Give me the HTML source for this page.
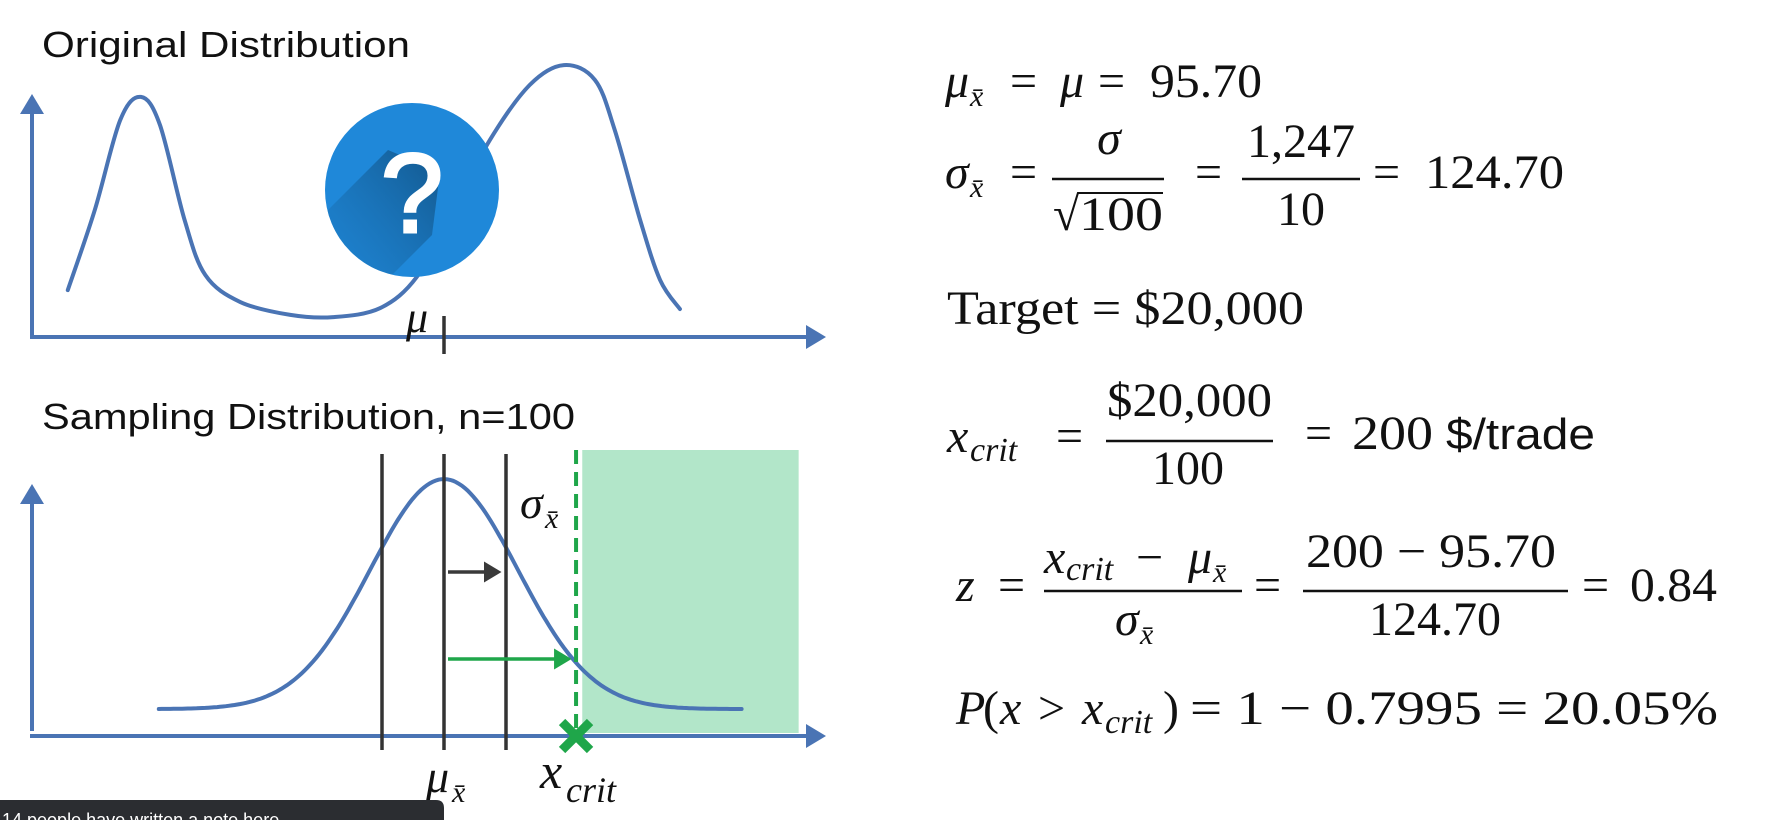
<!DOCTYPE html>
<html><head><meta charset="utf-8"><style>
html,body{margin:0;padding:0;background:#fff;}
svg{display:block;}
.serif{font-family:"Liberation Serif",serif;}
.it{font-style:italic;}
</style></head><body>
<svg id="chart" width="1765" height="820" viewBox="0 0 1765 820" xmlns="http://www.w3.org/2000/svg">
<defs>
<marker id="arr" markerWidth="6" markerHeight="6" refX="4" refY="3" orient="auto" markerUnits="strokeWidth"><path d="M0,0 L5,3 L0,6 z" fill="#4a74b4"/></marker>
<marker id="arrK" markerWidth="6" markerHeight="6" refX="4" refY="3" orient="auto" markerUnits="strokeWidth"><path d="M0,0 L5,3 L0,6 z" fill="#3a3a3a"/></marker>
<marker id="arrG" markerWidth="6" markerHeight="6" refX="4" refY="3" orient="auto" markerUnits="strokeWidth"><path d="M0,0 L5,3 L0,6 z" fill="#1fa64a"/></marker>
<clipPath id="circ"><circle cx="412" cy="190" r="87"/></clipPath>
<linearGradient id="shad" x1="1" y1="0" x2="0" y2="1"><stop offset="0" stop-color="#0f4a78"/><stop offset="1" stop-color="#1f88d9" stop-opacity="0.1"/></linearGradient>
</defs>

<text x="42" y="57" font-family="Liberation Sans, sans-serif" font-size="36" fill="#111" textLength="368" lengthAdjust="spacingAndGlyphs">Original Distribution</text>
<text x="42" y="429" font-family="Liberation Sans, sans-serif" font-size="36" fill="#111" textLength="533" lengthAdjust="spacingAndGlyphs">Sampling Distribution, n=100</text>

<line x1="32" y1="337" x2="32" y2="98" stroke="#4a74b4" stroke-width="4" marker-end="url(#arr)"/>
<line x1="30" y1="337" x2="822" y2="337" stroke="#4a74b4" stroke-width="4" marker-end="url(#arr)"/>
<g id="topCurve"></g>
<line x1="444" y1="316" x2="444" y2="354" stroke="#333" stroke-width="3.5"/>
<text x="406" y="332" class="serif it" font-size="44" fill="#111">μ</text>

<g>
<circle cx="412" cy="190" r="87" fill="#1f88d9"/>
<polygon points="388,150 440,172 432,235 332,335 290,292 290,248" fill="url(#shad)" clip-path="url(#circ)" opacity="0.8"/>
<text x="412" y="232" text-anchor="middle" font-family="Liberation Sans, sans-serif" font-size="112" fill="#fff" stroke="#fff" stroke-width="3">?</text>
</g>

<g id="bottom"></g>

<g class="serif" font-size="48" fill="#111">
<g>
<text x="945" y="97" class="it">μ</text><text x="970" y="106" class="it" font-size="30">x̄</text>
<text x="1010" y="97">=</text><text x="1060" y="97" class="it">μ</text><text x="1098" y="97">=</text>
<text x="1150" y="97" textLength="112" lengthAdjust="spacingAndGlyphs">95.70</text>
</g>
<g>
<text x="945" y="188" class="it">σ</text><text x="970" y="197" class="it" font-size="30">x̄</text>
<text x="1010" y="188">=</text>
<text x="1109" y="154" class="it" text-anchor="middle">σ</text>
<line x1="1052" y1="179" x2="1164" y2="179" stroke="#111" stroke-width="2.5"/>
<text x="1053" y="230">√</text><line x1="1078" y1="193" x2="1163" y2="193" stroke="#111" stroke-width="2"/>
<text x="1079" y="230" textLength="84" lengthAdjust="spacingAndGlyphs">100</text>
<text x="1195" y="188">=</text>
<text x="1301" y="157" text-anchor="middle">1,247</text>
<line x1="1242" y1="179" x2="1360" y2="179" stroke="#111" stroke-width="2.5"/>
<text x="1301" y="225" text-anchor="middle">10</text>
<text x="1373" y="188">=</text><text x="1425" y="188" textLength="139" lengthAdjust="spacingAndGlyphs">124.70</text>
</g>
<text x="947" y="324" textLength="357" lengthAdjust="spacingAndGlyphs">Target = $20,000</text>
<g>
<text x="947" y="452" class="it">x</text><text x="970" y="461" class="it" font-size="34">crit</text>
<text x="1056" y="452">=</text>
<text x="1107" y="416" textLength="165" lengthAdjust="spacingAndGlyphs">$20,000</text>
<line x1="1106" y1="441" x2="1273" y2="441" stroke="#111" stroke-width="2.5"/>
<text x="1188" y="484" text-anchor="middle">100</text>
<text x="1305" y="449">=</text><text x="1352" y="449" textLength="81" lengthAdjust="spacingAndGlyphs">200</text>
<text x="1446" y="449" font-family="Liberation Sans, sans-serif" font-size="44" textLength="149" lengthAdjust="spacingAndGlyphs">$/trade</text>
</g>
<g>
<text x="956" y="601" class="it">z</text><text x="998" y="601">=</text>
<text x="1044" y="573" class="it">x</text><text x="1066" y="580" class="it" font-size="34">crit</text>
<text x="1136" y="573">−</text><text x="1188" y="573" class="it">μ</text><text x="1213" y="582" class="it" font-size="30">x̄</text>
<line x1="1044" y1="591" x2="1242" y2="591" stroke="#111" stroke-width="2.5"/>
<text x="1115" y="635" class="it">σ</text><text x="1140" y="644" class="it" font-size="30">x̄</text>
<text x="1254" y="601">=</text>
<text x="1306" y="567" textLength="250" lengthAdjust="spacingAndGlyphs">200 − 95.70</text>
<line x1="1303" y1="591" x2="1568" y2="591" stroke="#111" stroke-width="2.5"/>
<text x="1435" y="635" text-anchor="middle">124.70</text>
<text x="1582" y="601">=</text><text x="1630" y="601" textLength="87" lengthAdjust="spacingAndGlyphs">0.84</text>
</g>
<g>
<text x="956" y="724" class="it">P</text><text x="983" y="724">(</text><text x="1000" y="724" class="it">x</text>
<text x="1038" y="724">&gt;</text><text x="1082" y="724" class="it">x</text><text x="1105" y="733" class="it" font-size="34">crit</text>
<text x="1163" y="724">)</text>
<text x="1190" y="724" textLength="528" lengthAdjust="spacingAndGlyphs">= 1 − 0.7995 = 20.05%</text>
</g>
</g>

<g>
<path d="M0,800 L436,800 Q444,800 444,808 L444,820 L0,820 z" fill="#2b2d31"/>
<text x="2" y="826" font-family="Liberation Sans, sans-serif" font-size="18" fill="#fff">14 people have written a note here</text>
</g>
</svg>
<script>
var origX = [4.5,7.9,11.1,13.7,16.1,19.2,21.8,26.2,32.5,37.9,43.8,48.4,52.6,57.6,62.6,66.9,70.8,73.3,76.5,79.0,81.5];
var origY = [19.3,52.3,89.3,98.8,87.2,48.1,25.5,14.4,9.1,8.2,11.9,24.7,50.2,81.1,103.7,111.9,105.8,85.2,48.1,23.5,11.5];
var sampMean = [0];
var sampSd = [1.19];
var sdLines = [-1, 0, 1];
var critValue = [2.13];
var tailOffset = [0.117];
var curveRange = [-4.6, 4.8];
var shadeRange = [2.23, 5.72];

var NS = "http://www.w3.org/2000/svg";
function mk(tag, attrs, parent){var e=document.createElementNS(NS,tag);for(var k in attrs)e.setAttribute(k,attrs[k]);parent.appendChild(e);return e;}
function xTop(v){return 32 + v*7.95;}
function yTop(v){return 337 - v*2.43;}
function xBot(v){return 444 + v*62;}
function yBot(v){return 736 - v*230;}

var pts = origX.map(function(x,i){return [xTop(x), yTop(origY[i])];});
var d = "M"+pts[0][0]+","+pts[0][1];
for (var i=0;i<pts.length-1;i++){
  var p0=pts[Math.max(0,i-1)],p1=pts[i],p2=pts[i+1],p3=pts[Math.min(pts.length-1,i+2)];
  d += " C"+(p1[0]+(p2[0]-p0[0])/6)+","+(p1[1]+(p2[1]-p0[1])/6)+" "+(p2[0]-(p3[0]-p1[0])/6)+","+(p2[1]-(p3[1]-p1[1])/6)+" "+p2[0]+","+p2[1];
}
var tc = mk("path",{d:d,fill:"none",stroke:"#4a74b4","stroke-width":4,"stroke-linecap":"round"},document.getElementById("topCurve"));



var g = document.getElementById("bottom");
var shade = mk("rect",{x:xBot(shadeRange[0]),y:450,width:xBot(shadeRange[1])-xBot(shadeRange[0]),height:283,fill:"#b2e6c9"},g);


var ya = mk("line",{x1:32,y1:731,x2:32,y2:488,stroke:"#4a74b4","stroke-width":4,"marker-end":"url(#arr)"},g);


var xa = mk("line",{x1:30,y1:736,x2:822,y2:736,stroke:"#4a74b4","stroke-width":4,"marker-end":"url(#arr)"},g);


var bd = "";
for (var k=0;k<=200;k++){
  var v = curveRange[0] + (curveRange[1]-curveRange[0])*k/200;
  var z = (v - sampMean[0]) / sampSd[0];
  var dens = tailOffset[0] + Math.exp(-z*z/2);
  bd += (k?" L":"M") + xBot(v).toFixed(1) + "," + yBot(dens).toFixed(1);
}
var bc = mk("path",{d:bd,fill:"none",stroke:"#4a74b4","stroke-width":4,"stroke-linecap":"round"},g);


sdLines.forEach(function(s){
  var l = mk("line",{x1:xBot(s),y1:454,x2:xBot(s),y2:750,stroke:"#333","stroke-width":3.5},g);
  
  
});
var dl = mk("line",{x1:xBot(critValue[0]),y1:450,x2:xBot(critValue[0]),y2:736,stroke:"#1fa64a","stroke-width":4,"stroke-dasharray":"14,8"},g);


var ka = mk("line",{x1:xBot(sampMean[0])+4,y1:572,x2:xBot(sdLines[2])-8,y2:572,stroke:"#3a3a3a","stroke-width":3.5,"marker-end":"url(#arrK)"},g);


var ga = mk("line",{x1:xBot(sampMean[0])+4,y1:659,x2:xBot(critValue[0])-8,y2:659,stroke:"#1fa64a","stroke-width":3.5,"marker-end":"url(#arrG)"},g);


var cx = xBot(critValue[0]);
var xm = mk("path",{d:"M"+(cx-14)+",722 L"+(cx+14)+",750 M"+(cx+14)+",722 L"+(cx-14)+",750",stroke:"#1fa64a","stroke-width":9},g);


function txt(x,y,s,size,italic){
  var t = mk("text",{x:x,y:y,"font-family":"Liberation Serif, serif","font-size":size,"font-style":italic?"italic":"normal",fill:"#111"},g);
  t.textContent = s;
  return t;
}
var sl = txt(520,518,"σ",46,true);  
var sl2 = txt(545,528,"x̄",30,true);  
var ml = txt(xBot(sampMean[0])-18,792,"μ",46,true);  
var ml2 = txt(xBot(sampMean[0])+8,802,"x̄",30,true);  
var xl = txt(cx-36,788,"x",50,true);  
var xl2 = txt(cx-10,802,"crit",36,true);  
</script>
</body></html>
